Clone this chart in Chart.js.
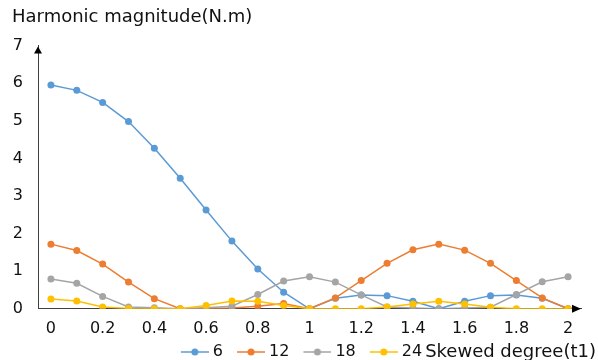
<!DOCTYPE html>
<html>
<head>
<meta charset="utf-8">
<script src="https://cdn.jsdelivr.net/npm/chart.js@4"></script>
<style>
  body { margin: 0; background: #fff; }
  canvas { display: block; }
</style>
</head>
<body>
<canvas id="harmonicChart" width="598" height="360"></canvas>
<script>
// skew degree (t1) on the x axis
const degrees = ['0', '0.1', '0.2', '0.3', '0.4', '0.5', '0.6', '0.7', '0.8', '0.9', '1',
                 '1.1', '1.2', '1.3', '1.4', '1.5', '1.6', '1.7', '1.8', '1.9', '2'];

// harmonic magnitudes (N.m)
const h6  = [5.95, 5.81, 5.49, 4.98, 4.27, 3.47, 2.63, 1.80, 1.06, 0.44, 0,
             0.28, 0.37, 0.35, 0.20, 0, 0.20, 0.35, 0.37, 0.28, 0];
const h12 = [1.72, 1.55, 1.19, 0.71, 0.27, 0, 0.01, 0.02, 0.07, 0.14, 0,
             0.29, 0.75, 1.21, 1.57, 1.72, 1.56, 1.21, 0.75, 0.29, 0];
const h18 = [0.79, 0.68, 0.33, 0.05, 0.03, 0, 0.03, 0.07, 0.38, 0.74, 0.85,
             0.71, 0.37, 0.05, 0.02, 0, 0.02, 0.04, 0.38, 0.72, 0.85];
const h24 = [0.26, 0.21, 0.05, 0.01, 0, 0, 0.09, 0.21, 0.20, 0.09, 0,
             0, 0, 0.05, 0.13, 0.20, 0.13, 0.04, 0, 0, 0];

const seriesNames = ['6', '12', '18', '24'];
const yTicks = [0, 1, 2, 3, 4, 5, 6, 7];

const FONT = 'DejaVu Sans';
const colors = ['#5B9BD5', '#ED7D31', '#A5A5A5', '#FFC000'];

// legend marker: short line with a dot, drawn on the right part of the image
// so that it sits close to its text
function legendIcon(color) {
    const c = document.createElement('canvas');
    c.width = 42;
    c.height = 10;
    const g = c.getContext('2d');
    g.strokeStyle = color;
    g.lineWidth = 1.5;
    g.beginPath();
    g.moveTo(14, 5);
    g.lineTo(42, 5);
    g.stroke();
    g.fillStyle = color;
    g.beginPath();
    g.arc(28, 5, 3.5, 0, Math.PI * 2);
    g.fill();
    return c;
}

// arrow heads at the end of both axes
const axisArrows = {
    id: 'axisArrows',
    afterDraw(chart) {
        const { ctx, chartArea } = chart;
        ctx.save();
        ctx.fillStyle = '#000';
        // y axis arrow
        const ax = chartArea.left;
        ctx.beginPath();
        ctx.moveTo(ax, chartArea.top + 1);
        ctx.lineTo(ax - 4, chartArea.top + 8);
        ctx.lineTo(ax + 4, chartArea.top + 8);
        ctx.closePath();
        ctx.fill();
        // x axis arrow
        const ay = chartArea.bottom;
        ctx.beginPath();
        ctx.moveTo(chartArea.right, ay);
        ctx.lineTo(chartArea.right - 9, ay - 4);
        ctx.lineTo(chartArea.right - 9, ay + 4);
        ctx.closePath();
        ctx.fill();
        ctx.restore();
    }
};

// x axis title sits to the right of the legend
const xTitle = {
    id: 'xTitle',
    afterDraw(chart) {
        const { ctx } = chart;
        const boxes = chart.legend.legendHitBoxes;
        if (!boxes || !boxes.length) return;
        const y = boxes[0].top + boxes[0].height / 2;
        ctx.save();
        ctx.font = '18px "' + FONT + '"';
        ctx.fillStyle = '#111';
        ctx.textAlign = 'right';
        ctx.textBaseline = 'middle';
        ctx.fillText('Skewed degree(t1)', chart.width - 2, y);
        ctx.restore();
    }
};

const ctx = document.getElementById('harmonicChart').getContext('2d');
const allSeries = [h6, h12, h18, h24];

new Chart(ctx, {
    type: 'line',
    data: {
        labels: degrees,
        datasets: allSeries.map((vals, i) => ({
            label: seriesNames[i],
            data: vals,
            borderColor: colors[i],
            backgroundColor: colors[i],
            borderWidth: 1.5,
            pointRadius: 3.5,
            pointHoverRadius: 3.5,
            pointBorderWidth: 0,
            tension: 0,
            order: 3 - i   // later series drawn on top
        }))
    },
    options: {
        responsive: false,
        animation: false,
        events: [],
        layout: {
            padding: { top: 4, left: 12, right: 17, bottom: -10 }
        },
        plugins: {
            title: {
                display: true,
                text: 'Harmonic magnitude(N.m)',
                align: 'start',
                color: '#111',
                font: { family: FONT, size: 18, weight: 'normal' },
                padding: { top: 3, bottom: 17 }
            },
            legend: {
                position: 'bottom',
                labels: {
                    usePointStyle: true,
                    pointStyleWidth: 34,
                    padding: 4,
                    color: '#111',
                    font: { family: FONT, size: 16 },
                    sort: (a, b) => a.datasetIndex - b.datasetIndex,
                    generateLabels(chart) {
                        const items = Chart.defaults.plugins.legend.labels.generateLabels(chart);
                        items.forEach(it => { it.pointStyle = legendIcon(colors[it.datasetIndex]); });
                        return items;
                    }
                }
            },
            tooltip: { enabled: false }
        },
        scales: {
            x: {
                type: 'category',
                offset: true,
                grid: { display: false, drawTicks: false },
                border: { display: true, color: '#404040', width: 1 },
                afterFit(scale) {
                    scale.height -= 8;
                },
                ticks: {
                    autoSkip: false,
                    maxRotation: 0,
                    padding: 10,
                    color: '#111',
                    font: { family: FONT, size: 16 },
                    callback(value, index) {
                        return index % 2 === 0 ? degrees[index] : '';
                    }
                }
            },
            y: {
                min: yTicks[0],
                max: yTicks[yTicks.length - 1],
                afterBuildTicks(scale) {
                    scale.ticks = yTicks.map(v => ({ value: v }));
                },
                afterFit(scale) {
                    scale.width = 26;
                },
                grid: { display: false, drawTicks: false },
                border: { display: true, color: '#404040', width: 1 },
                ticks: {
                    padding: 15,
                    color: '#111',
                    font: { family: FONT, size: 16 }
                }
            }
        }
    },
    plugins: [axisArrows, xTitle]
});
</script>
</body>
</html>
